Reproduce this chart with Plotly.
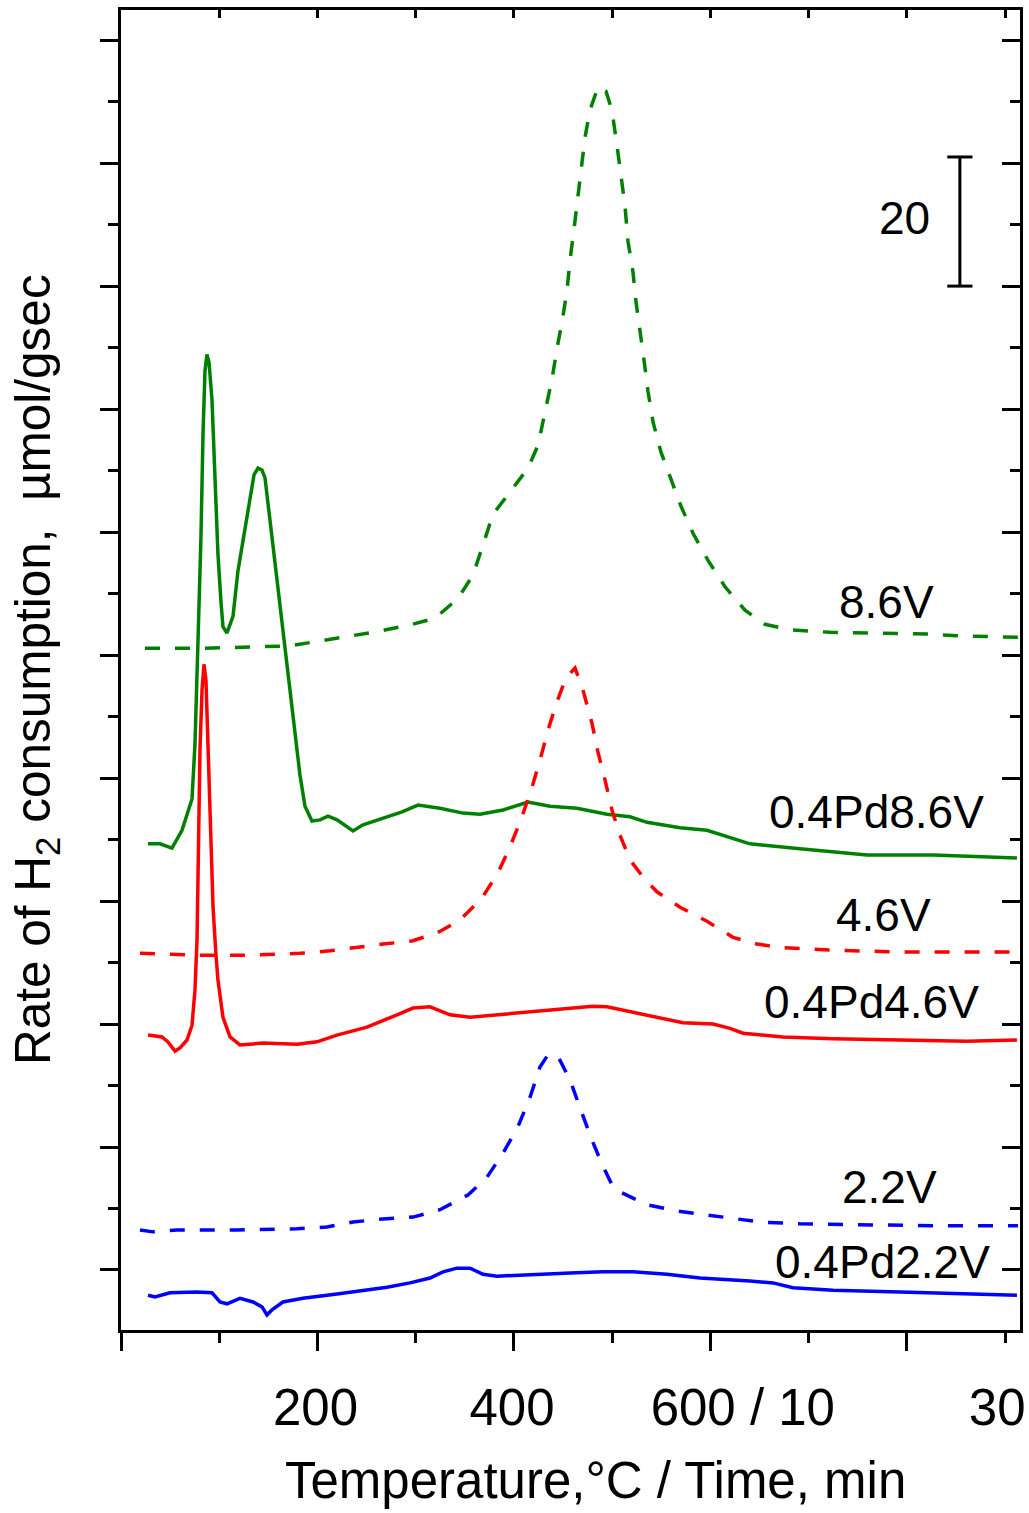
import plotly.graph_objects as go

# ---------------- data (x: °C up to 600, then time axis in same units; y: µmol/gsec, offset curves)
x_86V = [24.4, 80.4, 131.3, 172, 226, 263.7, 294.2, 319.7, 343, 358.3, 368.5, 378.7, 395, 414.3, 424.5,
         431.6, 438.8, 443.9, 448.9, 454, 457.1, 461.2, 465.2, 468.3, 472.4, 477.4, 485.6, 493.7, 499.8,
         504.9, 509, 513.1, 516.1, 521.2, 524.3, 528.3, 532.4, 536.5, 541.6, 549.7, 559.9, 570.1, 582.3,
         597.6, 614.9, 635.2, 655.6, 681, 721.8, 762.5, 823.6, 854.1, 894.8, 913.1]
y_86V = [101.1, 101.1, 101.3, 101.5, 102.9, 103.9, 104.9, 106.0, 109.2, 113.0, 117.9, 122.9, 126.3, 130.4, 134.1,
         139.2, 144.9, 149.9, 154.1, 159.2, 164.2, 169.3, 174.3, 179.2, 184.2, 188.6, 192.4, 191.7, 188.6,
         182.9, 178.0, 173.0, 167.3, 162.3, 157.4, 153.0, 148.0, 142.9, 137.9, 133.0, 128.6, 124.2, 119.8,
         115.4, 111.1, 107.3, 105.0, 104.1, 103.7, 103.6, 103.4, 103.1, 102.9, 102.9]

x_Pd86V = [27.5, 39.7, 51.9, 62.1, 72.3, 75.3, 78.4, 81.4, 83.5, 85.5, 87.5, 89.6, 92.6, 95.7, 98.7, 101.8,
           103.8, 107.9, 114.0, 119.1, 126.2, 131.3, 135.4, 139.5, 143.5, 146.6, 151.7, 156.8, 161.9, 167.0,
           172.0, 177.1, 182.2, 187.3, 194.4, 202.6, 210.7, 219.9, 231.1, 236.2, 246.4, 266.7, 286.1, 302.3,
           324.7, 348.2, 365.5, 388.9, 414.3, 436.7, 464.2, 494.7, 518.2, 535.5, 555.8, 569.1, 596.5, 623.0,
           640.3, 691.2, 759.4, 826.6, 912.1]
y_Pd86V = [69.3, 69.3, 68.6, 71.5, 76.6, 85.5, 102.4, 119.2, 136.1, 146.2, 148.9, 147.6, 141.6, 127.6, 116.4, 108.6,
           104.6, 103.6, 106.3, 113.7, 120.8, 125.9, 129.3, 130.4, 130.1, 128.8, 122.0, 114.8, 108.0, 101.3,
           94.0, 87.3, 80.5, 75.4, 73.0, 73.2, 73.8, 73.2, 71.9, 71.4, 72.4, 73.5, 74.5, 75.6,
           75.1, 74.3, 74.1, 74.8, 76.1, 75.4, 75.1, 74.1, 73.7, 72.8, 72.2, 71.9, 71.5, 70.1,
           69.3, 68.5, 67.5, 67.5, 67.0]

x_46V = [19.3, 80.4, 131.3, 182.2, 212.8, 240.2, 266.7, 296.2, 321.7, 345.1, 367.5, 383.8, 396, 408.2, 418.4,
         426.5, 434.7, 443.8, 453, 462.2, 470.3, 479.5, 485.6, 492.7, 499.8, 508, 518.2, 531.4, 545.6, 569.1,
         596.5, 623, 647.4, 673.9, 724.8, 793, 894.8, 913.1]
y_46V = [51.5, 51.2, 51.2, 51.5, 51.9, 52.5, 53.0, 53.5, 54.8, 56.9, 60.5, 64.6, 68.8, 73.7, 78.5,
         82.9, 87.8, 92.4, 96.3, 97.9, 94.3, 88.9, 84.2, 79.7, 74.8, 70.7, 66.7, 63.9, 61.5, 59.0,
         56.7, 54.1, 53.0, 52.4, 52.0, 51.7, 51.7, 51.7]

x_Pd46V = [27.5, 41.7, 47.8, 55, 60.1, 67.2, 72.3, 75.3, 77.4, 78.4, 80.4, 82.5, 84.5, 86.5, 88.6, 90.6, 93.7,
           96.7, 98.7, 103.8, 111, 121.1, 144.6, 179.2, 199.5, 219.9, 250.4, 281, 297.3, 314.6, 334.9, 355.3,
           382.8, 409.2, 436.7, 480.5, 494.7, 518.2, 545.6, 572.1, 602.7, 620, 633.2, 673.9, 724.8, 793,
           861.2, 912.1]
y_Pd46V = [38.2, 37.9, 37.1, 35.6, 36.1, 37.4, 39.8, 45.5, 53.7, 66.7, 84.6, 94.3, 98.5, 95.9, 86.2, 75.3, 59.0,
           51.2, 47.2, 41.1, 37.9, 36.6, 36.9, 36.7, 37.1, 38.2, 39.5, 41.5, 42.6, 42.8, 41.5, 41.1,
           41.5, 42.0, 42.4, 42.9, 42.8, 42.0, 41.0, 40.2, 40.0, 39.3, 38.5, 37.9, 37.6, 37.4,
           37.2, 37.4]

x_22V = [19.3, 32.6, 57, 118.1, 179.2, 209.7, 236.2, 266.7, 297.3, 324.7, 353.2, 372.6, 388.9, 404.1, 416.4,
         426.5, 434.7, 441.8, 446.9, 457.1, 469.3, 479.5, 489.7, 500.9, 508, 535.5, 566, 596.5, 623, 650.5,
         691.2, 759.4, 826.6, 913.1]
y_22V = [6.5, 6.2, 6.5, 6.5, 6.7, 7.0, 7.8, 8.3, 8.6, 9.8, 12.2, 15.1, 19.0, 23.3, 28.1,
         33.0, 35.0, 35.0, 34.1, 30.9, 25.5, 21.1, 17.2, 13.5, 12.7, 10.6, 9.6, 8.9, 8.3, 7.8,
         7.5, 7.3, 7.2, 7.2]

x_Pd22V = [27.5, 34.6, 49.9, 77.4, 92.6, 100.8, 107.9, 121.1, 134.4, 143.5, 148.6, 153.7, 164.9, 185.3, 219.9,
           243.3, 270.8, 294.2, 314.6, 327.8, 342, 355.3, 368.5, 382.8, 423.5, 457.1, 490.7, 521.2, 555.8,
           589.4, 640.3, 663.7, 684.1, 724.8, 793, 861.2, 912.1]
y_Pd22V = [-4.1, -4.4, -3.7, -3.6, -3.7, -5.2, -5.5, -4.6, -5.2, -6.0, -7.3, -6.5, -5.2, -4.6, -3.9,
           -3.4, -2.8, -2.1, -1.3, -0.3, 0.3, 0.3, -0.7, -1.0, -0.8, -0.5, -0.3, -0.3, -0.7,
           -1.3, -1.8, -2.1, -2.9, -3.3, -3.6, -3.9, -4.1]

series_names = ["8.6V", "0.4Pd8.6V", "4.6V", "0.4Pd4.6V", "2.2V", "0.4Pd2.2V"]
series_x = [x_86V, x_Pd86V, x_46V, x_Pd46V, x_22V, x_Pd22V]
series_y = [y_86V, y_Pd86V, y_46V, y_Pd46V, y_22V, y_Pd22V]
series_colors = ["#008000", "#008000", "#FF0000", "#FF0000", "#0000FF", "#0000FF"]
series_dash = ["15px,15px", "solid", "15px,15px", "solid", "15px,15px", "solid"]

label_x = [779, 769, 776, 764, 782, 775]
label_y = [108.7, 74.5, 57.7, 43.6, 13.5, 1.3]

# x-axis tick labels (temperature / time)
xtick_label_pos = [198, 398, 633, 892]
xtick_label_text = ["200", "400", "600 / 10", "30"]
x_major = [0, 200, 400, 600, 800]
x_minor = [100, 300, 500, 700, 900]
y_major = list(range(0, 201, 20))
y_minor = list(range(-10, 201, 20))

# scale bar: 20 µmol/gsec
scale_x = [854, 854]
scale_y = [160, 181]
scale_label = "20"

X_RANGE = [0, 915.2]
Y_RANGE = [-9.76, 204.9]

FONT = "Liberation Sans, Arial, sans-serif"

fig = go.Figure()
for xs, ys, c, d in zip(series_x, series_y, series_colors, series_dash):
    fig.add_trace(go.Scatter(x=xs, y=ys, mode="lines",
                             line=dict(color=c, width=3.5, dash=d), hoverinfo="skip"))

fig.add_trace(go.Scatter(x=scale_x, y=scale_y, mode="lines+markers",
                         line=dict(color="black", width=3),
                         marker=dict(symbol="line-ew", size=18, line=dict(color="black", width=3)),
                         hoverinfo="skip"))

# dummy traces so overlay axes are drawn
fig.add_trace(go.Scatter(x=[None], y=[None], xaxis="x2", yaxis="y2", hoverinfo="skip"))
fig.add_trace(go.Scatter(x=[None], y=[None], xaxis="x3", yaxis="y", hoverinfo="skip"))

for name, lx, ly in zip(series_names, label_x, label_y):
    fig.add_annotation(x=lx, y=ly, text=name, showarrow=False, xanchor="center", yanchor="middle",
                       font=dict(size=46, color="black", family=FONT))
fig.add_annotation(x=798, y=171, text=scale_label, showarrow=False, xanchor="center", yanchor="middle",
                   font=dict(size=46, color="black", family=FONT))

fig.add_annotation(xref="paper", yref="paper", x=0.528, y=0, yshift=-150, text="Temperature,°C / Time, min",
                   showarrow=False, xanchor="center", yanchor="middle",
                   font=dict(size=51, color="black", family=FONT))
fig.add_annotation(xref="paper", yref="paper", x=0, xshift=-85, y=0.5,
                   text="Rate of H<sub>2</sub> consumption,  µmol/gsec", textangle=-90,
                   showarrow=False, xanchor="center", yanchor="middle",
                   font=dict(size=49.5, color="black", family=FONT))

common = dict(showgrid=False, zeroline=False, linecolor="black", linewidth=3, tickcolor="black", tickwidth=3,
              automargin=False)

fig.update_layout(
    width=1029, height=1513,
    margin=dict(l=121, r=9, t=10, b=183, autoexpand=False),
    plot_bgcolor="white", paper_bgcolor="white",
    showlegend=False,
    font=dict(family=FONT, color="black"),
    xaxis=dict(range=X_RANGE, showline=True, tickvals=x_major, ticks="outside", ticklen=18,
               showticklabels=False,
               minor=dict(tickvals=x_minor, ticks="outside", ticklen=10, tickwidth=3, tickcolor="black",
                          showgrid=False),
               **common),
    xaxis2=dict(range=X_RANGE, overlaying="x", anchor="y2", side="bottom", showline=False,
                tickvals=xtick_label_pos, ticktext=xtick_label_text, ticks="outside", ticklen=33,
                tickcolor="rgba(0,0,0,0)", tickfont=dict(size=51, family=FONT, color="black"),
                ticklabeloverflow="allow", automargin=False,
                showgrid=False, zeroline=False),
    xaxis3=dict(range=X_RANGE, overlaying="x", anchor="y", side="top", showline=True,
                tickvals=x_major, ticks="inside", ticklen=8, showticklabels=False,
                minor=dict(tickvals=x_minor, ticks="inside", ticklen=8, tickwidth=3, tickcolor="black",
                           showgrid=False),
                **common),
    yaxis=dict(range=Y_RANGE, showline=True, tickvals=y_major, ticks="outside", ticklen=18,
               showticklabels=False,
               minor=dict(tickvals=y_minor, ticks="outside", ticklen=10, tickwidth=3, tickcolor="black",
                          showgrid=False),
               **common),
    yaxis2=dict(range=Y_RANGE, overlaying="y", anchor="x", side="right", showline=True,
                tickvals=y_major, ticks="inside", ticklen=18, showticklabels=False,
                minor=dict(tickvals=y_minor, ticks="inside", ticklen=10, tickwidth=3, tickcolor="black",
                           showgrid=False),
                **common),
)

fig.write_html("out.html")
